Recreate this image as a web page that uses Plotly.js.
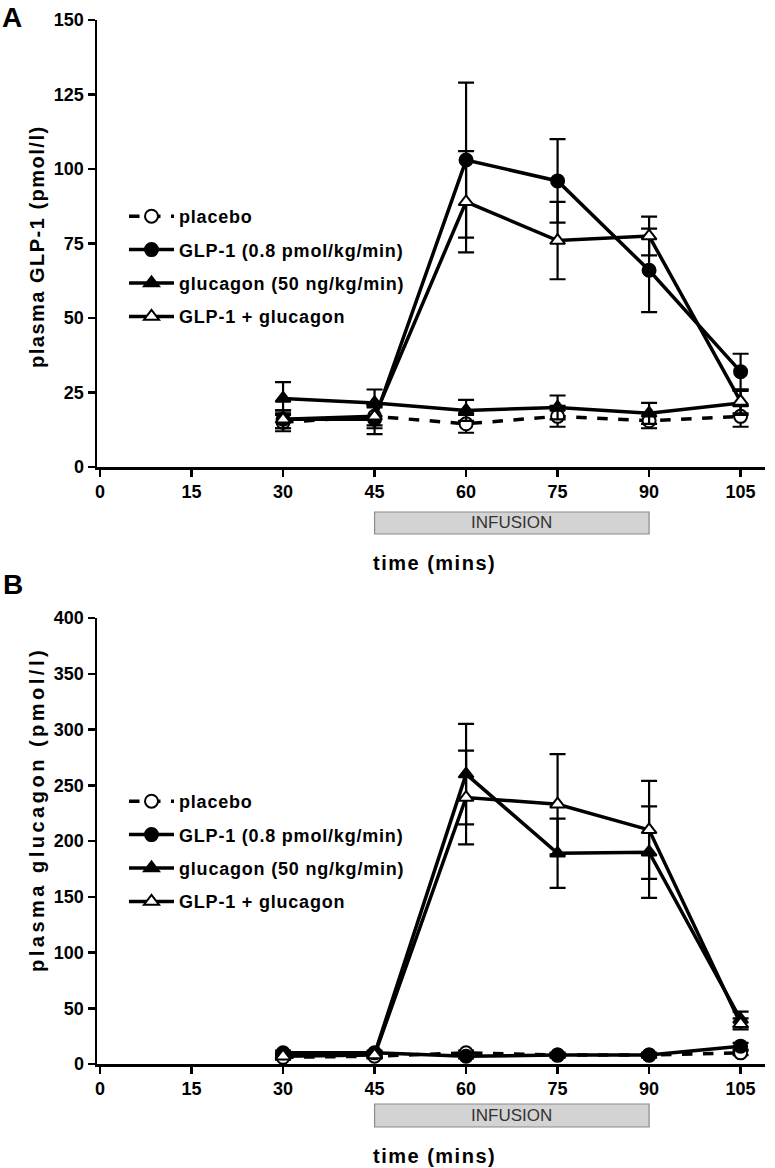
<!DOCTYPE html>
<html>
<head>
<meta charset="utf-8">
<script src="https://cdn.plot.ly/plotly-3.0.1.min.js"></script>
<style>
  body { margin: 0; background: #fff; }
  #chart { width: 775px; height: 1168px; }
</style>
</head>
<body>
<div id="chart"></div>
<script>
// time points (mins)
const times = [30, 45, 60, 75, 90, 105];
const xTicks = [0, 15, 30, 45, 60, 75, 90, 105];
const seriesNames = ["placebo", "GLP-1 (0.8 pmol/kg/min)", "glucagon (50 ng/kg/min)", "GLP-1 + glucagon"];

// panel A: plasma GLP-1 (pmol/l), mean and SEM
const glpPlacebo = [15, 17, 14.5, 17, 15.5, 17];
const glpPlaceboErr = [3, 3, 3, 3.5, 2.5, 3.5];
const glpGlp1 = [16, 16, 103, 96, 66, 32];
const glpGlp1Err = [3, 5, 26, 14, 14, 6];
const glpGlucagon = [23, 21.5, 19, 20, 18, 21.5];
const glpGlucagonErr = [5.5, 4.5, 3.5, 4, 3.5, 4];
const glpCombo = [16, 17, 89, 76, 77.5, 22];
const glpComboErr = [3, 4, 17, 13, 6.5, 4];

// panel B: plasma glucagon (pmol/l), mean and SEM
const gcgPlacebo = [6, 7, 10, 8, 8, 10];
const gcgPlaceboErr = [2, 2, 2, 2, 2, 2];
const gcgGlp1 = [10, 10, 7, 8, 8, 16];
const gcgGlp1Err = [2, 2, 2, 2, 2, 3];
const gcgGlucagon = [8, 9, 260, 189, 190, 40];
const gcgGlucagonErr = [2, 2, 45, 31, 41, 7];
const gcgCombo = [7, 8, 239, 233, 210, 36];
const gcgComboErr = [2, 2, 42, 45, 44, 5];

const W = 775, H = 1168;
const FONT = "Arial, 'Liberation Sans', sans-serif";

// pixel helpers (page is drawn with zero margins)
function px(x) { return x / W; }
function py(y) { return 1 - y / H; }
function spaced(s, ls) { return '<span style="letter-spacing:' + ls + 'px">' + s + '</span>'; }

const styles = [
    {fill: "white", dash: "dash", symbol: "circle"},
    {fill: "black", dash: "solid", symbol: "circle"},
    {fill: "black", dash: "solid", symbol: "triangle-up"},
    {fill: "white", dash: "solid", symbol: "triangle-up"},
];

function makeTraces(vals, errs, xa, ya, leg) {
    let out = [];
    vals.forEach(function(v, k) {
        const s = styles[k];
        out.push({
            x: times,
            y: v,
            xaxis: xa,
            yaxis: ya,
            legend: leg,
            legendgroup: leg + k,
            name: spaced(seriesNames[k], 0.8),
            type: "scatter",
            mode: "lines+markers",
            line: {color: "black", width: 3.5, dash: s.dash},
            marker: {
                symbol: s.symbol,
                size: 13,
                color: s.fill,
                line: {color: "black", width: 2},
            },
            error_y: {type: "data", array: errs[k], color: "black", thickness: 2.2, width: 8},
        });
    });
    return out;
}

let data = [].concat(
    makeTraces([glpPlacebo, glpGlp1, glpGlucagon, glpCombo],
               [glpPlaceboErr, glpGlp1Err, glpGlucagonErr, glpComboErr], "x", "y", "legend"),
    makeTraces([gcgPlacebo, gcgGlp1, gcgGlucagon, gcgCombo],
               [gcgPlaceboErr, gcgGlp1Err, gcgGlucagonErr, gcgComboErr], "x2", "y2", "legend2")
);

const tickFont = {family: FONT, size: 18, weight: "bold", color: "black"};

function xAxis(anchor) {
    return {
        domain: [px(97), px(765)],
        range: [-0.5, 109],
        anchor: anchor,
        tickvals: xTicks,
        ticks: "outside", ticklen: 7, tickwidth: 2.5, tickcolor: "black",
        showline: true, linecolor: "black", linewidth: 2.5,
        showgrid: false, zeroline: false,
        tickfont: tickFont,
    };
}
function yAxis(anchor, top, bottom, max, dtick) {
    return {
        domain: [py(bottom), py(top)],
        range: [0, max],
        anchor: anchor,
        dtick: dtick,
        ticks: "outside", ticklen: 7, tickwidth: 2.5, tickcolor: "black",
        showline: true, linecolor: "black", linewidth: 2.5,
        showgrid: false, zeroline: false,
        tickfont: tickFont,
    };
}

const legendBase = {
    xanchor: "left", yanchor: "top",
    font: {family: FONT, size: 18, weight: "bold", color: "black"},
    bgcolor: "rgba(0,0,0,0)",
    tracegroupgap: 7,
    itemwidth: 45,
};

function txt(text, x, y, size, opts) {
    return Object.assign({
        text: text, xref: "paper", yref: "paper", x: px(x), y: py(y),
        showarrow: false, xanchor: "center", yanchor: "middle",
        font: {family: FONT, size: size, weight: "bold", color: "black"},
    }, opts || {});
}

function infusion(xref, y) {
    return {text: "INFUSION", xref: xref, yref: "paper", x: 67.5, y: py(y),
            showarrow: false, xanchor: "center", yanchor: "middle",
            font: {family: FONT, size: 17, color: "#333"}};
}

let layout = {
    width: W, height: H,
    margin: {l: 0, r: 0, t: 0, b: 0},
    paper_bgcolor: "white", plot_bgcolor: "white",
    showlegend: true,
    xaxis: xAxis("y"),
    yaxis: yAxis("x", 20, 467, 150, 25),
    xaxis2: xAxis("y2"),
    yaxis2: yAxis("x2", 618, 1064, 400, 50),
    legend: Object.assign({x: px(124), y: py(198)}, legendBase),
    legend2: Object.assign({x: px(124), y: py(783)}, legendBase),
    shapes: [
        {type: "rect", xref: "x", yref: "paper", x0: 45, x1: 90, y0: py(534), y1: py(512),
         fillcolor: "#d3d3d3", line: {color: "#8a8a8a", width: 1.2}},
        {type: "rect", xref: "x2", yref: "paper", x0: 45, x1: 90, y0: py(1127), y1: py(1104),
         fillcolor: "#d3d3d3", line: {color: "#8a8a8a", width: 1.2}},
    ],
    annotations: [
        txt("A", 12, 17, 28),
        txt("B", 13, 584, 28),
        txt(spaced("plasma GLP-1 (pmol/l)", 1.5), 37, 247, 20, {textangle: -90}),
        txt(spaced("plasma glucagon (pmol/l)", 3.5), 37, 810, 20, {textangle: -90}),
        txt(spaced("time (mins)", 1.5), 434, 563, 20),
        txt(spaced("time (mins)", 1.5), 434, 1156, 20),
        infusion("x", 523),
        infusion("x2", 1115.5),
    ],
};

Plotly.newPlot("chart", data, layout, {staticPlot: true});
</script>
</body>
</html>
